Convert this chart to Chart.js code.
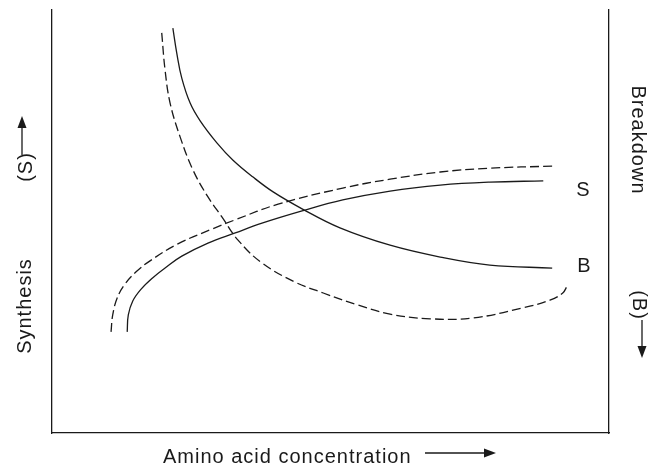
<!DOCTYPE html>
<html>
<head>
<meta charset="utf-8">
<script src="https://cdn.jsdelivr.net/npm/chart.js@4"></script>
<style>
  html, body { margin: 0; padding: 0; background: #fff; }
  #wrap { width: 648px; height: 468px; }
</style>
</head>
<body>
<div id="wrap"><canvas id="chart" width="648" height="468"></canvas></div>
<script>
// curve values, x = amino acid concentration, y = relative rate (0-100)
const synthesisX = [13.5, 13.7, 14.5, 16.0, 18.0, 20.3, 23.3, 28.0, 32.9, 37.7, 44.9, 52.2, 60.7, 69.7, 78.6, 88.2];
const synthesisY = [23.9, 27.9, 31.2, 34.0, 36.6, 39.0, 41.8, 44.9, 47.3, 49.6, 52.5, 55.1, 57.2, 58.6, 59.3, 59.6];
const synthesisDashX = [10.6, 10.9, 11.7, 13.1, 15.1, 17.6, 22.6, 28.7, 32.9, 40.6, 52.2, 60.7, 69.7, 78.6, 89.8];
const synthesisDashY = [23.9, 27.9, 31.9, 35.2, 38.1, 40.7, 44.7, 48.2, 50.4, 54.1, 57.9, 60.0, 61.7, 62.6, 63.1];
const breakdownX = [21.7, 22.4, 23.3, 24.8, 26.6, 29.6, 32.5, 36.1, 39.7, 44.9, 51.7, 60.7, 69.7, 78.6, 89.8];
const breakdownY = [95.7, 89.8, 83.9, 78.0, 73.8, 68.6, 64.5, 60.5, 57.0, 53.0, 48.5, 44.4, 41.6, 39.7, 39.0];
const breakdownDashX = [19.7, 20.3, 21.2, 23.0, 25.3, 28.0, 30.5, 33.4, 37.7, 43.6, 48.7, 54.8, 60.7, 67.9, 75.6, 84.6, 89.4, 91.7, 92.5];
const breakdownDashY = [94.6, 85.8, 78.0, 70.0, 62.2, 55.8, 51.1, 45.6, 40.2, 35.7, 33.1, 30.3, 28.1, 27.0, 27.2, 29.6, 31.4, 33.1, 34.8];
const curveLabels = ["S", "B"];

const ink = "#1a1a1a";
const font = '20px "Liberation Sans", Arial, sans-serif';

const pts = (xs, ys) => xs.map((x, i) => ({ x, y: ys[i] }));
const line = (data, dash) => ({
  data, showLine: true, borderColor: ink, borderWidth: 1.3, borderDash: dash,
  pointRadius: 0, tension: 0.4, fill: false
});

function arrow(ctx, x1, y1, x2, y2) {
  const a = Math.atan2(y2 - y1, x2 - x1);
  ctx.beginPath();
  ctx.moveTo(x1, y1);
  ctx.lineTo(x2 - 10 * Math.cos(a), y2 - 10 * Math.sin(a));
  ctx.stroke();
  ctx.beginPath();
  ctx.moveTo(x2, y2);
  ctx.lineTo(x2 - 12 * Math.cos(a) + 4.5 * Math.sin(a), y2 - 12 * Math.sin(a) - 4.5 * Math.cos(a));
  ctx.lineTo(x2 - 12 * Math.cos(a) - 4.5 * Math.sin(a), y2 - 12 * Math.sin(a) + 4.5 * Math.cos(a));
  ctx.closePath();
  ctx.fill();
}

const titles = {
  id: "titles",
  afterDraw(chart) {
    const ctx = chart.ctx, ca = chart.chartArea;
    const ys = chart.scales.y;
    ctx.save();
    ctx.fillStyle = ink;
    ctx.strokeStyle = ink;
    ctx.lineWidth = 1.3;
    ctx.font = font;
    ctx.letterSpacing = "1px";
    ctx.textBaseline = "alphabetic";

    // x title
    ctx.textAlign = "left";
    ctx.fillText("Amino acid concentration", 163, ca.bottom + 30);
    arrow(ctx, 425, ca.bottom + 20, 496, ca.bottom + 20);

    // left title
    ctx.save();
    ctx.translate(31, 306);
    ctx.rotate(-Math.PI / 2);
    ctx.textAlign = "center";
    ctx.fillText("Synthesis", 0, 0);
    ctx.restore();
    ctx.save();
    ctx.translate(32, 167);
    ctx.rotate(-Math.PI / 2);
    ctx.textAlign = "center";
    ctx.fillText("(S)", 0, 0);
    ctx.restore();
    arrow(ctx, 22, 155, 22, 116);

    // right title
    ctx.save();
    ctx.translate(632, 140);
    ctx.rotate(Math.PI / 2);
    ctx.textAlign = "center";
    ctx.fillText("Breakdown", 0, 0);
    ctx.restore();
    ctx.save();
    ctx.translate(633, 305);
    ctx.rotate(Math.PI / 2);
    ctx.textAlign = "center";
    ctx.fillText("(B)", 0, 0);
    ctx.restore();
    arrow(ctx, 642, 320, 642, 358);

    // curve labels
    ctx.letterSpacing = "0px";
    ctx.textAlign = "center";
    ctx.textBaseline = "middle";
    ctx.fillText(curveLabels[0], ca.right - 26, ys.getPixelForValue(synthesisY[synthesisY.length - 1]) + 10);
    ctx.fillText(curveLabels[1], ca.right - 25, ys.getPixelForValue(breakdownY[breakdownY.length - 1]) - 2);
    ctx.restore();
  }
};

const axis = (position) => ({
  type: "linear", position, min: 0, max: 100,
  grid: { display: false, drawTicks: false },
  ticks: { display: false },
  border: { display: true, color: ink, width: 1.3 },
  afterFit(s) { if (s.isHorizontal()) s.height = 0; else s.width = 0; }
});

new Chart(document.getElementById("chart"), {
  type: "scatter",
  data: {
    datasets: [
      line(pts(synthesisX, synthesisY), []),
      line(pts(synthesisDashX, synthesisDashY), [9, 4]),
      line(pts(breakdownX, breakdownY), []),
      line(pts(breakdownDashX, breakdownDashY), [9, 4])
    ]
  },
  options: {
    responsive: false,
    animation: false,
    layout: { padding: { left: 52, top: 10, right: 39, bottom: 35 } },
    plugins: { legend: { display: false }, tooltip: { enabled: false } },
    scales: { x: axis("bottom"), y: axis("left"), y2: axis("right") }
  },
  plugins: [titles]
});
</script>
</body>
</html>
